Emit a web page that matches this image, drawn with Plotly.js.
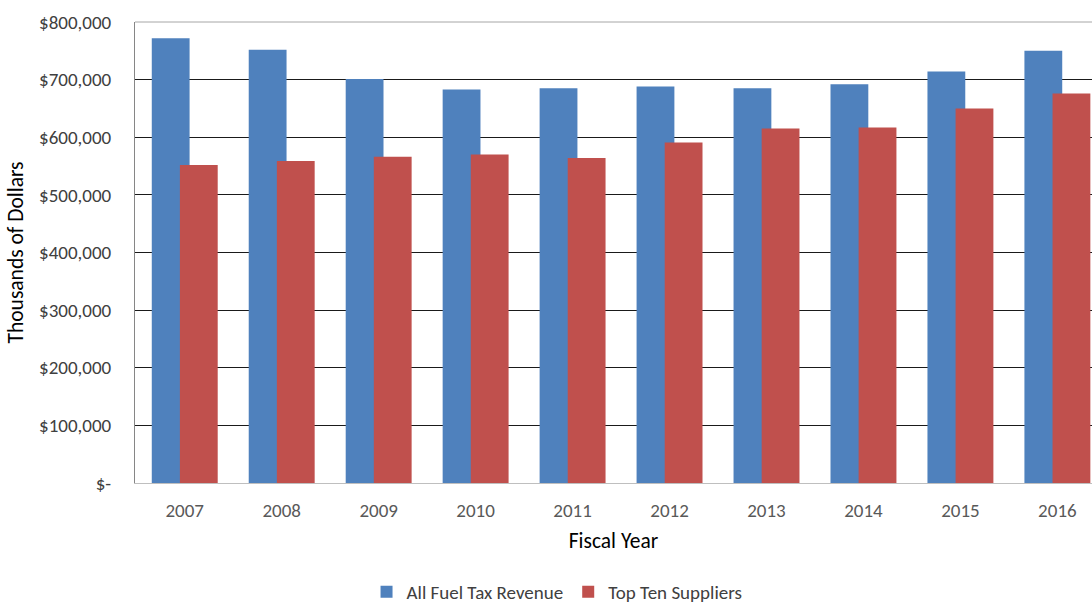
<!DOCTYPE html>
<html>
<head>
<meta charset="utf-8">
<script src="https://cdn.plot.ly/plotly-3.0.1.min.js"></script>
<style>html,body{margin:0;padding:0;background:#fff;overflow:hidden;}#chart{width:1092px;height:625px;}</style>
</head>
<body>
<div id="chart"></div>
<script>
const years = ["2007","2008","2009","2010","2011","2012","2013","2014","2015","2016"];
const allFuelTaxRevenue = [772, 752, 701, 683, 685, 688, 685, 692, 714, 750].map(v => v * 1000);
const topTenSuppliers = [552, 559, 566, 570, 564, 591, 615, 617, 650, 676].map(v => v * 1000);
const yTickVals = [0, 100000, 200000, 300000, 400000, 500000, 600000, 700000, 800000];
const yTickText = ["$-", "$100,000", "$200,000", "$300,000", "$400,000", "$500,000", "$600,000", "$700,000", "$800,000"];

const FONT = "Carlito, 'Open Sans', sans-serif";

const traces = [
  {
    type: "bar", name: "All Fuel Tax Revenue", x: years, y: allFuelTaxRevenue,
    marker: {color: "#4F81BD"}, offset: -0.34, width: 0.39
  },
  {
    type: "bar", name: "Top Ten Suppliers", x: years, y: topTenSuppliers,
    marker: {color: "#C0504D"}, offset: -0.05, width: 0.39
  }
];

const layout = {
  width: 1092, height: 625,
  margin: {l: 135, r: 0, t: 22, b: 142, pad: 0},
  paper_bgcolor: "#fff", plot_bgcolor: "#fff",
  barmode: "overlay",
  showlegend: true,
  font: {family: FONT, size: 19, color: "#404040"},
  xaxis: {
    type: "category", range: [-0.513, 9.357], fixedrange: true,
    showgrid: false, showline: true, linecolor: "#BFBFBF", linewidth: 1,
    ticks: "outside", ticklen: 10, tickcolor: "rgba(0,0,0,0)",
    tickfont: {family: FONT, size: 19, color: "#595959"},
    title: {text: "Fiscal Year", font: {family: FONT, size: 21.5, color: "#000"}, standoff: 12},
    automargin: false
  },
  yaxis: {
    range: [0, 800000], fixedrange: true,
    tickvals: yTickVals, ticktext: yTickText,
    showgrid: true, gridcolor: "#1a1a1a", gridwidth: 1,
    zeroline: false, showline: true, linecolor: "#868686", linewidth: 1,
    ticks: "outside", ticklen: 19, tickcolor: "rgba(0,0,0,0)",
    tickfont: {family: FONT, size: 19, color: "#404040"},
    title: {text: "Thousands of Dollars", font: {family: FONT, size: 21.5, color: "#000"}, standoff: 9},
    automargin: false
  },
  shapes: [
    {type: "line", xref: "paper", yref: "paper", x0: 0, x1: 1, y0: 1, y1: 1, line: {color: "#A6A6A6", width: 1}, layer: "above"}
  ],
  legend: {
    orientation: "h", x: 0.441, xanchor: "center", y: -0.236, yanchor: "middle",
    font: {family: FONT, size: 19, color: "#404040"},
    itemwidth: 30, traceorder: "normal", bgcolor: "rgba(0,0,0,0)"
  }
};

Plotly.newPlot("chart", traces, layout, {displayModeBar: false, staticPlot: true});
</script>
</body>
</html>
